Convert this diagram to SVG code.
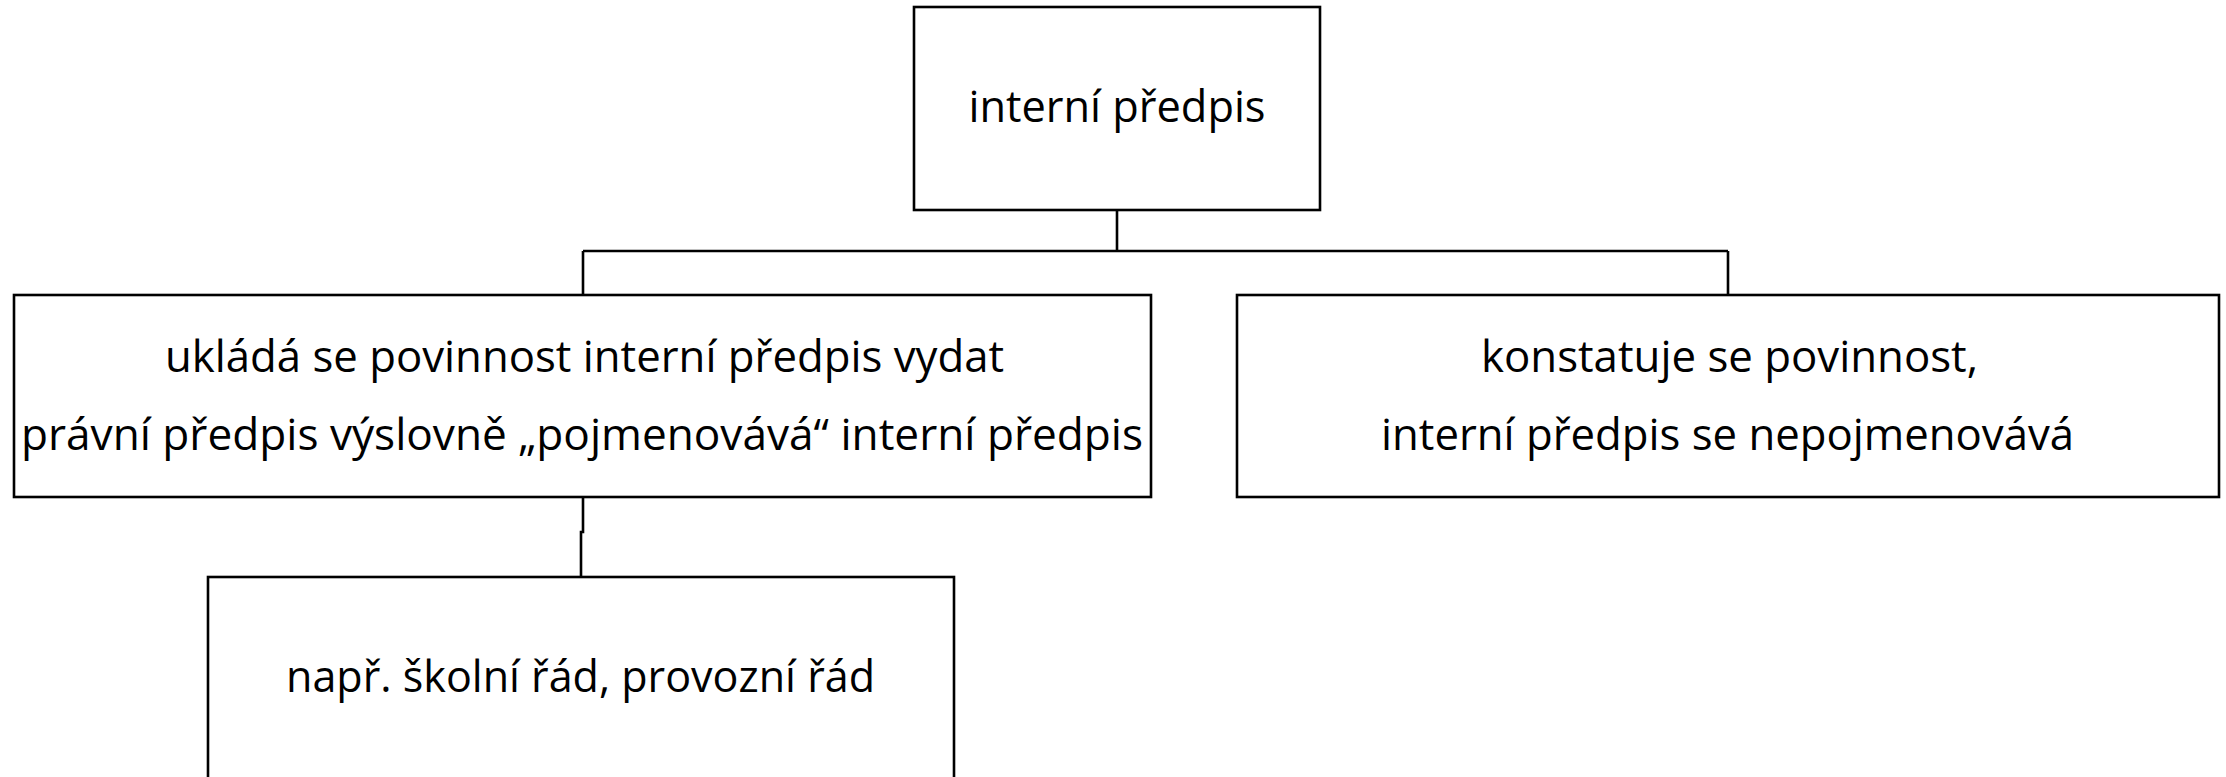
<svg xmlns="http://www.w3.org/2000/svg" width="2226" height="777" viewBox="0 0 2226 777">
<style>
.box{fill:#fff;stroke:#000;stroke-width:2.6}
.con{fill:none;stroke:#000;stroke-width:2.6}
.t{font-family:"Open Sans","Liberation Sans",sans-serif;font-size:44px;fill:#000;text-anchor:middle}
</style>
<rect width="2226" height="777" fill="#fff"/>
<g id="connectors">
<path class="con" d="M1117,210 V251 M583,251 H1728 M583,251 V295 M1728,251 V295"/>
<path class="con" d="M583,497 V532 H581 V577"/>
</g>
<g id="n-interni">
<rect class="box" x="914" y="7" width="406" height="203"/>
<text class="t" x="1117" y="122" textLength="297" lengthAdjust="spacingAndGlyphs">interní předpis</text>
</g>
<g id="n-uklada">
<rect class="box" x="14" y="295" width="1137" height="202"/>
<text class="t" x="584.5" y="372" textLength="839" lengthAdjust="spacingAndGlyphs">ukládá se povinnost interní předpis vydat</text>
<text class="t" x="582" y="450" textLength="1122" lengthAdjust="spacingAndGlyphs">právní předpis výslovně „pojmenovává“ interní předpis</text>
</g>
<g id="n-konstatuje">
<rect class="box" x="1237" y="295" width="982" height="202"/>
<text class="t" x="1729.5" y="372" textLength="497" lengthAdjust="spacingAndGlyphs">konstatuje se povinnost,</text>
<text class="t" x="1727.5" y="450" textLength="693" lengthAdjust="spacingAndGlyphs">interní předpis se nepojmenovává</text>
</g>
<g id="n-napr">
<rect class="box" x="208" y="577" width="746" height="230"/>
<text class="t" x="580.5" y="692" textLength="589" lengthAdjust="spacingAndGlyphs">např. školní řád, provozní řád</text>
</g>
</svg>
